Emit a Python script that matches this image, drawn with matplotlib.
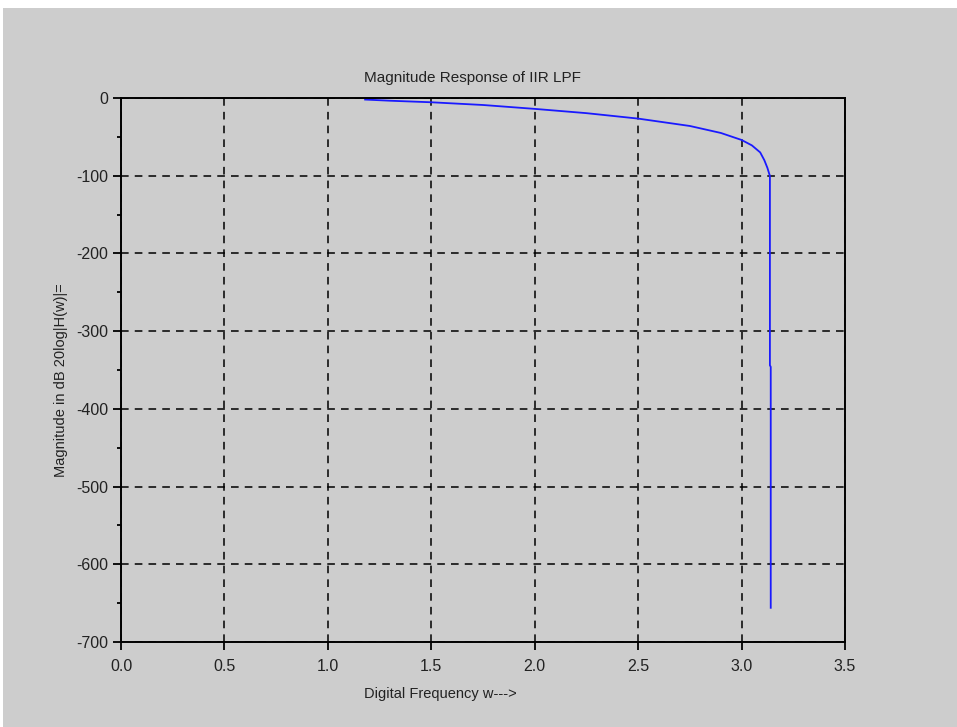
import matplotlib.pyplot as plt
from matplotlib.patches import Rectangle
from matplotlib.ticker import MultipleLocator

# values
freq = [1.18, 1.30, 1.50, 1.75, 2.00, 2.25, 2.50, 2.75, 2.90, 3.00, 3.05,
        3.09, 3.11, 3.125, 3.133, 3.137, 3.137, 3.141, 3.141]
magdb = [-2, -3.5, -5.5, -9, -14, -19.5, -26.5, -36, -45, -54, -61,
         -70, -80, -90, -97, -100, -344, -346, -656]

xticks = [0.0, 0.5, 1.0, 1.5, 2.0, 2.5, 3.0, 3.5]
yticks = [0, -100, -200, -300, -400, -500, -600, -700]

bg = '#cdcdcd'
plt.rcParams['font.family'] = ['Liberation Sans', 'DejaVu Sans']

fig = plt.figure(figsize=(9.57, 7.27), dpi=100, facecolor='white')
fig.patches.append(Rectangle((3 / 957, 0), 1, 1 - 8 / 727, transform=fig.transFigure,
                             facecolor=bg, edgecolor='none', zorder=-10))

ax = fig.add_axes([121 / 957, 85 / 727, 724 / 957, 544 / 727])
ax.set_facecolor(bg)
ax.plot(freq, magdb, color='#1a1aff', linewidth=1.3)

ax.set_xlim(0, 3.5)
ax.set_ylim(-700, 0)
ax.set_xticks(xticks)
ax.set_xticklabels([f"{t:.1f}" for t in xticks])
ax.set_yticks(yticks)
ax.set_yticklabels([str(t) for t in yticks])
ax.yaxis.set_minor_locator(MultipleLocator(50))

ax.grid(True, which='major', color='black', linestyle=(0, (5, 4)), linewidth=1.1)
for s in ax.spines.values():
    s.set_linewidth(1.4)
    s.set_color('black')

ax.tick_params(axis='both', which='major', direction='out', length=6, width=1.3,
               labelsize=11.5, labelcolor='#222222')
ax.tick_params(axis='x', pad=6)
ax.tick_params(axis='y', pad=3)
ax.tick_params(axis='y', which='minor', direction='out', length=3, width=1.3)

fig.text(472 / 957, 1 - 78 / 727, "Magnitude Response of IIR LPF",
         ha='center', va='center', fontsize=11, color='#222222')
fig.text(440 / 957, 1 - 694 / 727, "Digital Frequency w--->",
         ha='center', va='center', fontsize=10.5, color='#222222')
fig.text(61 / 957, 1 - 380 / 727, "Magnitude in dB 20log|H(w)|=",
         ha='center', va='center', rotation=90, fontsize=10.5, color='#222222')

fig.savefig('out.png', dpi=100, facecolor=fig.get_facecolor())
